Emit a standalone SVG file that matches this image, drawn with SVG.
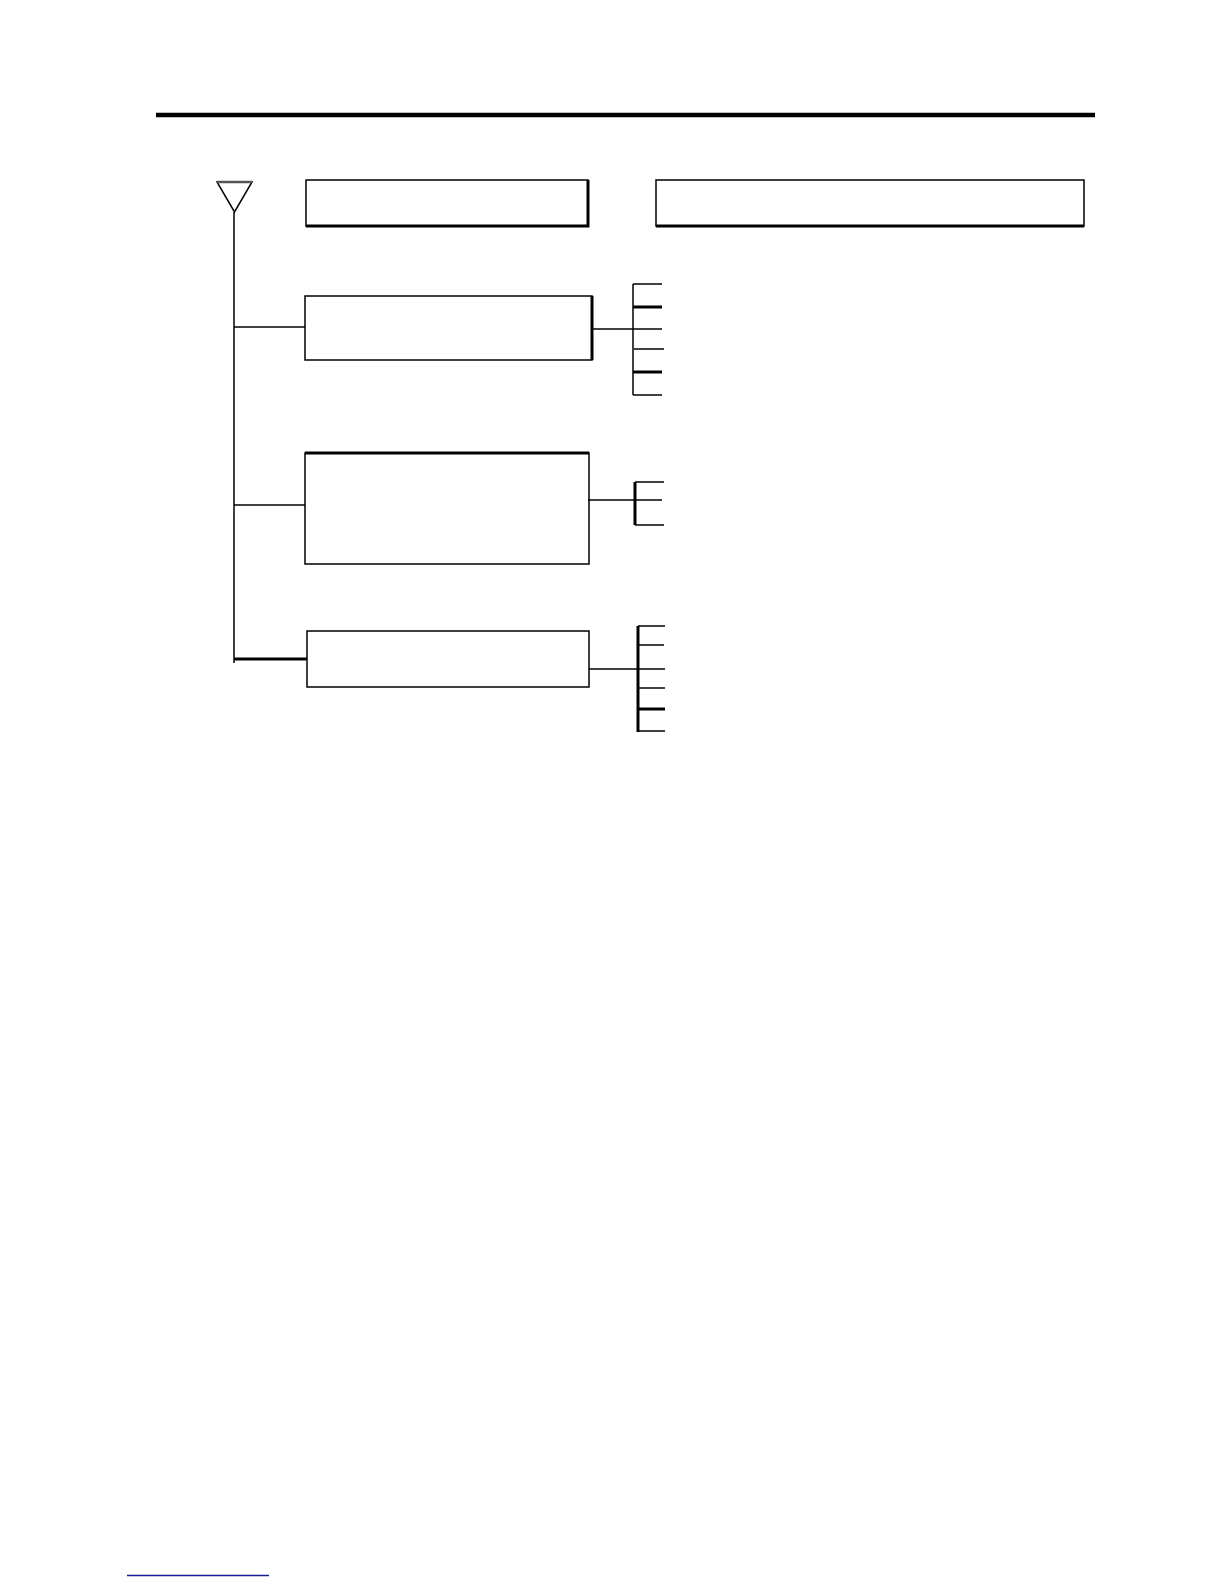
<svg xmlns="http://www.w3.org/2000/svg" width="1224" height="1584" viewBox="0 0 1224 1584">
<style>
.box{fill:#fff;stroke:#000;stroke-width:1.5}
.ln{stroke:#000;stroke-width:1.5;fill:none}
.thk{stroke:#000;stroke-width:3;fill:none}
</style>
<rect width="1224" height="1584" fill="#fff"/>
<line x1="156" y1="115" x2="1095" y2="115" stroke="#000" stroke-width="4.5"/>
<g id="triangle">
<polygon points="217,182 252,182 234.5,212" fill="#fff" stroke="#000" stroke-width="1.5"/>
<line x1="217" y1="182" x2="252" y2="182" stroke="#555" stroke-width="2.5"/>
</g>
<g id="header1">
<rect class="box" x="306" y="180" width="282" height="46"/>
<path class="thk" d="M588,180 V226 H306"/>
</g>
<g id="header2">
<rect class="box" x="656" y="180" width="428" height="46"/>
<path class="thk" d="M656,226 H1084"/>
</g>
<g id="nodeA">
<rect class="box" x="305" y="296" width="287" height="64"/>
<path class="thk" d="M592,296 V360"/>
</g>
<g id="nodeB">
<rect class="box" x="305" y="453" width="284" height="111"/>
<path class="thk" d="M305,453 H589"/>
</g>
<g id="nodeC">
<rect class="box" x="307" y="631" width="282" height="56" stroke-width="2.5"/>
</g>
<g id="connectors">
<line class="ln" x1="234" y1="212" x2="234" y2="663"/>
<line class="ln" x1="234" y1="327" x2="305" y2="327"/>
<line class="ln" x1="234" y1="505" x2="305" y2="505"/>
<line class="thk" x1="234" y1="659" x2="307" y2="659"/>
<line class="ln" x1="592" y1="329" x2="633" y2="329"/>
<line class="ln" x1="633" y1="284" x2="633" y2="395"/>
<line class="ln" x1="633" y1="284" x2="662" y2="284"/>
<line class="thk" x1="633" y1="307" x2="662" y2="307"/>
<line class="ln" x1="633" y1="329" x2="662" y2="329"/>
<line class="ln" x1="634" y1="349" x2="664" y2="349"/>
<line class="thk" x1="633" y1="372" x2="662" y2="372"/>
<line class="ln" x1="633" y1="395" x2="662" y2="395"/>
<line class="ln" x1="588" y1="500" x2="635" y2="500"/>
<line class="thk" x1="635" y1="482" x2="635" y2="525"/>
<line class="ln" x1="635" y1="482" x2="664" y2="482"/>
<line class="ln" x1="635" y1="500" x2="662" y2="500"/>
<line class="ln" x1="635" y1="525" x2="664" y2="525"/>
<line class="ln" x1="589" y1="669" x2="638" y2="669"/>
<line class="thk" x1="638" y1="626" x2="638" y2="732"/>
<line class="ln" x1="638" y1="626" x2="665" y2="626"/>
<line class="ln" x1="638" y1="645" x2="664" y2="645"/>
<line class="ln" x1="638" y1="669" x2="665" y2="669"/>
<line class="ln" x1="638" y1="688" x2="665" y2="688"/>
<line class="thk" x1="638" y1="709" x2="665" y2="709"/>
<line class="ln" x1="638" y1="731" x2="665" y2="731"/>
</g>
<line x1="127" y1="1575.5" x2="269" y2="1575.5" stroke="#1a1a99" stroke-width="1.5"/>
</svg>
